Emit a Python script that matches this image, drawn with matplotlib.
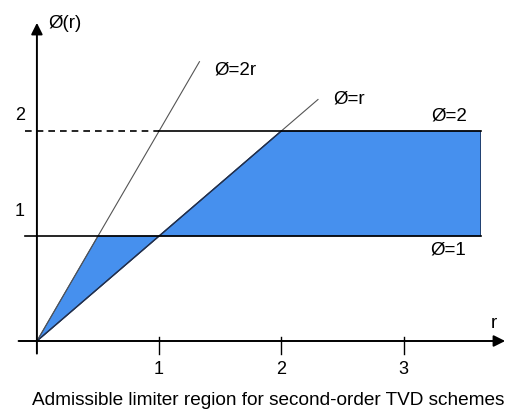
import numpy as np
import matplotlib
matplotlib.use("Agg")
import matplotlib.pyplot as plt

plt.rcParams['font.family'] = ['Liberation Sans', 'DejaVu Sans']

# Limiter bounds
r_knots = [0.0, 0.5, 1.0, 2.0, 3.63]          # breakpoints of the TVD region
upper_bound = [0.0, 1.0, 1.0, 2.0, 2.0]        # min(2r, 1) then min(r, 2)
lower_bound = [0.0, 0.5, 1.0, 1.0, 1.0]        # r then 1
slope_lines = [2.0, 1.0]                        # phi = 2r, phi = r
slope_ends = [1.33, 2.3]                        # how far the guide lines run
levels = [1.0, 2.0]                             # phi = 1, phi = 2
x_ticks = [1, 2, 3]
y_ticks = [1, 2]
fill_color = '#4690EE'

fig = plt.figure(figsize=(5.07, 4.12), dpi=100)
ax = fig.add_axes([0, 0, 1, 1])
ax.set_xlim(-37 / 122.5, 470 / 122.5 + 0.01)
ax.set_ylim(-71 / 105, 341 / 105)
ax.axis('off')

# admissible region
poly_x = r_knots + r_knots[::-1]
poly_y = upper_bound + lower_bound[::-1]
ax.fill(poly_x, poly_y, color=fill_color, ec='#1f3f70', lw=0.7, zorder=2)

# guide lines phi = 2r and phi = r
for s, e in zip(slope_lines, slope_ends):
    rr = np.array([0.0, e])
    ax.plot(rr, s * rr, color='#555555', lw=0.8, zorder=3)
# darker segment of phi=r bounding the region
ax.plot([0, levels[1]], [0, levels[1]], color='#1f2f50', lw=1.0, zorder=3)

# horizontal levels
ax.plot([-0.1, r_knots[-1]], [levels[0]] * 2, color='black', lw=1.2, zorder=3)
ax.plot([-0.1, levels[1] / slope_lines[0]], [levels[1]] * 2, color='black',
        lw=1.2, ls=(0, (4, 3)), zorder=3)
ax.plot([levels[1] / slope_lines[0], r_knots[-1]], [levels[1]] * 2,
        color='black', lw=1.2, zorder=3)

# axes with arrows
ax.annotate('', xy=(470 / 122.5 - 0.005, 0), xytext=(-0.15, 0),
            arrowprops=dict(arrowstyle='-|>', color='black', lw=1.4,
                            mutation_scale=17, shrinkA=0, shrinkB=0), zorder=4)
ax.annotate('', xy=(0, 3.03), xytext=(0, -0.12),
            arrowprops=dict(arrowstyle='-|>', color='black', lw=1.4,
                            mutation_scale=17, shrinkA=0, shrinkB=0), zorder=4)
for t in x_ticks:
    ax.plot([t, t], [0.04, -0.12], color='black', lw=1.0, zorder=4)
    ax.text(t, -0.276, str(t), ha='center', va='center', fontsize=13)
for t, yy in zip(y_ticks, [1.229, 2.143]):
    ax.text(-0.139, yy, str(t), ha='center', va='center', fontsize=13)

fs = 13.5
ax.text(0.229, 3.02, 'Ø(r)', ha='center', va='center', fontsize=fs)
ax.text(1.624, 2.58, 'Ø=2r', ha='center', va='center', fontsize=fs)
ax.text(2.555, 2.305, 'Ø=r', ha='center', va='center', fontsize=fs)
ax.text(3.371, 2.143, 'Ø=2', ha='center', va='center', fontsize=fs)
ax.text(3.363, 0.867, 'Ø=1', ha='center', va='center', fontsize=fs)
ax.text(3.739, 0.171, 'r', ha='center', va='center', fontsize=fs)

ax.text(1.89, -0.61, 'Admissible limiter region for second-order TVD schemes',
        ha='center', va='baseline', fontsize=13.7)

fig.savefig('out.png', dpi=100)
